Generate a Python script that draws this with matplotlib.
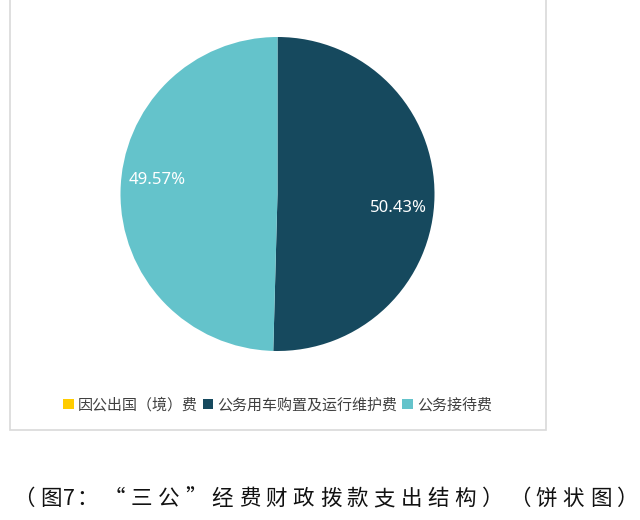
import numpy as np
import matplotlib
matplotlib.use("Agg")
import matplotlib.pyplot as plt
from matplotlib.patches import Rectangle, Patch

plt.rcParams['font.family'] = ['Noto Sans CJK SC', 'DejaVu Sans']

# datos del gráfico
categorias = ["因公出国（境）费", "公务用车购置及运行维护费", "公务接待费"]
porcentajes = [0.0, 50.43, 49.57]
colores = ["#FFCC00", "#16495E", "#64C3CB"]

titulo = "（图7：“三公”经费财政拨款支出结构）（饼状图）"

W, H = 640, 520
fig = plt.figure(figsize=(W / 100, H / 100), dpi=100)
fig.patch.set_facecolor("white")

# marco del gráfico (detrás de los ejes)
marco = Rectangle((10 / W, 1 - 430 / H), (546 - 10) / W, 430 / H + 0.02,
                  transform=fig.transFigure, facecolor="white",
                  edgecolor="#D9D9D9", linewidth=1.2, clip_on=False, zorder=-5)
fig.patches.append(marco)

# ejes del pastel
cx, cy, r = 277.5, 194, 157
ax = fig.add_axes([(cx - r) / W, (H - cy - r) / H, 2 * r / W, 2 * r / H])
ax.set_zorder(2)
wedges, _ = ax.pie(porcentajes, colors=colores, startangle=90, counterclock=False,
                   radius=1, wedgeprops=dict(linewidth=0))
ax.set_xlim(-1, 1)
ax.set_ylim(-1, 1)
ax.set_aspect("equal")
ax.axis("off")

# etiquetas de porcentaje dentro de cada sector
for w, p in zip(wedges, porcentajes):
    if p <= 0:
        continue
    ang = np.deg2rad((w.theta1 + w.theta2) / 2 - 6)
    ax.text(0.773 * np.cos(ang), 0.773 * np.sin(ang), f"{p:.2f}%",
            ha="center", va="center", color="white", fontsize=12,
            family=["Noto Sans", "DejaVu Sans"])

# leyenda
handles = [Patch(facecolor=c, edgecolor="none") for c in colores]
fig.legend(handles, categorias, loc="center", bbox_to_anchor=(cx / W, 1 - 405 / H),
           ncol=3, frameon=False, fontsize=10.8, labelcolor="#404040",
           handlelength=0.7, handleheight=0.7, handletextpad=0.3,
           columnspacing=0.3, borderaxespad=0)

# pie de figura, carácter por carácter con espaciado amplio
x = 10
for ch in titulo:
    ancho = 10 if ch == "7" else 27.0
    fig.text((x + ancho / 2) / W, 1 - 499 / H, ch, ha="center", va="center",
             fontsize=15.5, color="#111111")
    x += ancho

fig.savefig("out.png", dpi=100)
